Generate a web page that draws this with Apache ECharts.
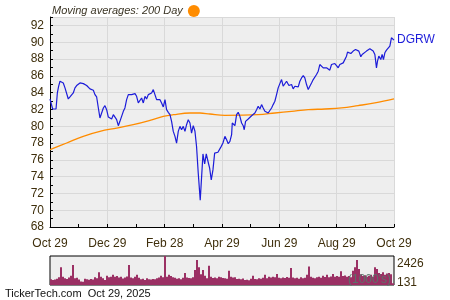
<!DOCTYPE html>
<html><head><meta charset="utf-8">
<script src="https://cdn.jsdelivr.net/npm/echarts@6/dist/echarts.min.js"></script>
<style>html,body{margin:0;padding:0;background:#fff}#c{width:450px;height:300px}</style>
</head><body><div id="c"></div>
<script>
// x positions are days since Oct 29, 2024
const xTickLabels = ['Oct 29','Dec 29','Feb 28','Apr 29','Jun 29','Aug 29','Oct 29'];
const priceDays = [0,2.8,6.4,7.8,9.2,10.6,12.4,14.1,15.9,17.7,19.4,21.2,23.0,24.7,26.5,28.3,30.0,31.8,33.6,35.4,37.1,38.9,40.7,42.4,44.2,46.0,47.7,49.5,51.3,53.0,54.8,56.6,58.3,60.1,61.9,63.6,65.4,67.2,68.9,70.7,72.5,74.2,76.0,77.8,79.5,81.3,83.1,84.8,86.6,88.4,90.2,91.9,93.7,95.5,97.2,99.0,100.8,102.5,104.3,106.1,107.8,109.6,111.4,113.1,114.9,116.7,118.4,120.2,122.0,123.7,125.5,127.3,129.0,130.8,132.6,134.3,136.1,137.9,139.6,141.4,143.2,144.9,146.7,148.5,150.2,152.0,153.8,155.5,157.3,159.4,162.3,164.1,165.8,168.3,169.4,171.1,172.9,174.7,176.4,178.2,179.9,181.7,183.5,185.6,187.4,189.1,190.9,192.7,193.4,194.4,196.2,198.0,199.7,201.5,203.3,205.0,206.1,207.5,208.6,210.3,212.1,213.9,215.6,217.4,219.2,220.9,222.7,224.5,226.2,228.0,229.8,231.5,233.3,235.1,236.8,238.6,240.4,242.1,243.9,245.7,247.4,249.2,251.0,252.0,253.5,255.2,256.3,258.0,259.8,261.6,263.4,265.1,266.9,268.7,270.4,272.2,274.0,275.7,277.5,279.3,281.1,282.8,284.6,286.3,288.1,289.9,291.6,293.4,295.2,296.9,298.7,300.5,302.2,304.0,305.8,307.5,309.3,311.1,312.8,314.6,315.7,317.1,319.2,321.7,324.2,325.9,327.7,329.8,331.2,333.3,335.8,337.6,339.4,341.1,342.9,344.7,346.4,347.5,348.9,351.0,352.4,353.8,355.3,357.0,358.8,360.6,362.3,364.1,365.0];
const priceValues = [83.24,82.05,82.05,83.96,84.76,85.35,85.55,85.15,84.56,84.44,83.24,83.48,83.36,83.96,84.56,84.84,85.03,85.15,85.15,85.07,85.15,84.84,84.76,84.44,84.36,84.28,83.76,83.48,82.17,80.98,81.57,82.17,82.45,81.97,81.09,81.09,80.86,81.37,81.17,80.78,80.06,80.58,80.70,81.77,82.17,83.16,83.76,83.84,83.76,83.76,83.88,83.56,82.77,82.97,83.36,82.77,83.56,83.24,83.76,83.88,83.96,84.36,84.16,83.16,83.08,83.16,82.77,82.29,83.16,81.97,81.65,81.37,80.58,79.38,78.79,77.99,79.38,79.98,79.58,79.98,79.38,80.18,80.78,80.38,79.18,80.06,79.40,77.59,74.40,71.20,76.70,75.50,76.70,75.50,75.00,73.60,74.80,76.80,76.90,76.90,77.10,77.60,78.00,78.79,78.39,77.91,78.19,78.99,80.38,80.30,80.06,81.37,81.65,81.17,80.38,80.06,79.58,80.58,80.38,80.86,80.98,81.25,81.37,81.57,81.97,82.37,82.05,82.57,82.17,81.77,81.97,81.57,81.49,82.17,82.57,82.97,83.76,84.56,85.07,85.55,84.76,84.96,85.35,85.55,84.84,84.68,84.96,84.44,84.76,84.76,84.68,85.35,85.75,86.03,85.75,84.96,84.36,84.76,85.15,85.55,85.75,86.15,86.55,87.34,87.14,86.95,86.75,86.95,87.14,86.67,87.34,87.54,87.46,87.22,86.95,87.34,87.54,87.54,87.74,88.34,88.82,88.74,88.66,88.94,89.13,89.33,88.94,88.26,88.54,88.74,88.94,89.13,89.21,89.33,88.94,88.54,86.95,87.74,88.34,87.94,88.54,87.94,88.74,89.05,89.21,89.53,90.53,90.33,90.25];
const maDays = [0,17.7,35.3,53.0,70.7,88.3,106.1,120.2,130.8,148.5,159.1,169.7,185.6,220.9,238.6,256.3,274.0,291.6,309.3,326.9,344.7,365];
const maValues = [77.2,78.0,78.8,79.38,79.78,80.18,80.7,81.17,81.37,81.57,81.57,81.45,81.3,81.37,81.57,81.77,81.97,82.05,82.17,82.45,82.77,83.25];
const volumeValues = [480,420,460,520,640,1480,680,560,500,620,780,1670,560,600,460,300,280,520,480,440,500,460,640,560,1060,700,560,420,780,640,700,860,700,760,620,680,540,620,720,1670,620,560,700,860,600,480,520,420,560,480,450,500,480,560,620,780,640,2426,700,860,760,640,600,520,560,480,600,1000,620,580,560,640,1250,2090,1480,900,1260,780,560,1600,700,580,620,560,700,640,580,560,520,1200,700,620,640,500,520,480,540,420,440,400,520,780,500,480,560,520,600,860,560,680,620,700,640,920,600,560,620,580,660,600,1420,620,560,600,520,640,560,600,860,1540,700,600,560,640,700,600,780,660,860,640,720,920,680,760,700,1150,760,800,700,760,640,1200,1480,2090,1340,900,760,820,700,780,860,700,1480,1340,1000,920,1060,860,960,1000,900,140];
const volumeTickValues = [131, 2426];
const tickerName = 'DGRW';
const maName = '200 Day';

const priceData = priceDays.map((d, i) => [d, priceValues[i]]);
const maData = maDays.map((d, i) => [d, maValues[i]]);
const step = 365 / 6;
const txt = '#3f2f0c';
const font = 'Liberation Sans';

const chart = echarts.init(document.getElementById('c'), null, {renderer: 'canvas'});
chart.setOption({
  animation: false,
  textStyle: {fontFamily: font},
  title: {text: 'TickerTech.com  Oct 29, 2025', left: 5, bottom: 1, padding: 0,
    textStyle: {fontSize: 11, fontWeight: 'normal', color: '#111', fontFamily: font}},
  legend: {data: [{name: maName, icon: 'circle'}], left: 47, top: 0, align: 'right',
    itemWidth: 12, itemHeight: 12, itemGap: 4, selectedMode: false,
    formatter: 'Moving averages: {name}',
    textStyle: {fontStyle: 'italic', fontSize: 11, color: '#3a3424', fontFamily: font}},
  graphic: [{type: 'text', left: 348, top: 274, z: 100,
    style: {text: "(1000's)", fill: '#56786a', font: '12px Liberation Sans', opacity: 0.9}}],
  grid: [
    {left: 50, right: 56, top: 17, height: 210, show: true, backgroundColor: '#eeeeee', borderWidth: 0},
    {left: 50, right: 56, top: 256, height: 29, show: true, backgroundColor: '#eeeeee', borderColor: '#000', borderWidth: 1}
  ],
  xAxis: [
    {type: 'value', gridIndex: 0, min: 0, max: 365, interval: step,
      axisLine: {show: true, lineStyle: {color: '#000', width: 1}},
      axisTick: {show: true, inside: true, length: 3, lineStyle: {color: '#000'}},
      minorTick: {show: true, splitNumber: 2, length: 3, lineStyle: {color: '#000'}},
      splitLine: {show: true, lineStyle: {color: '#d9d9d9', width: 1}},
      axisLabel: {margin: 11, fontSize: 12, color: txt, fontFamily: font,
        formatter: v => xTickLabels[Math.round(v / step)] || ''}},
    {type: 'category', gridIndex: 1, data: volumeValues.map((v, i) => i), boundaryGap: true,
      axisLine: {show: false}, axisTick: {show: false}, axisLabel: {show: false}, splitLine: {show: false}}
  ],
  yAxis: [
    {type: 'value', gridIndex: 0, min: 68, max: 93, interval: 2,
      axisLine: {show: true, lineStyle: {color: '#000', width: 1}},
      axisTick: {show: true, inside: true, length: 3, lineStyle: {color: '#000'}},
      minorTick: {show: true, splitNumber: 2, length: 3, lineStyle: {color: '#000'}},
      splitLine: {show: true, lineStyle: {color: '#d9d9d9', width: 1}},
      axisLabel: {margin: 6, fontSize: 12, color: txt, fontFamily: font, showMaxLabel: false}},
    {type: 'value', gridIndex: 1, position: 'right', min: 0, max: 2426,
      axisLine: {show: false}, axisTick: {show: false}, splitLine: {show: false},
      axisLabel: {margin: 3, fontSize: 12, color: txt, fontFamily: font, customValues: volumeTickValues,
        formatter: v => v === volumeTickValues[1] ? '{t|' + v + '}' : '{b|' + v + '}',
        rich: {t: {padding: [16, 0, 0, 0], fontSize: 12, color: txt, fontFamily: font},
               b: {padding: [0, 0, 2, 0], fontSize: 12, color: txt, fontFamily: font}}}}
  ],
  series: [
    {name: maName, type: 'line', xAxisIndex: 0, yAxisIndex: 0, data: maData, smooth: 0.4,
      showSymbol: false, color: '#ff8c00', lineStyle: {color: '#ff8c00', width: 1.3}, z: 3},
    {name: tickerName, type: 'line', xAxisIndex: 0, yAxisIndex: 0, data: priceData,
      showSymbol: false, color: '#1c1cd9', lineStyle: {color: '#1c1cd9', width: 1.2}, z: 4,
      endLabel: {show: true, formatter: tickerName, color: '#1c1cd9', fontSize: 12, fontFamily: font, distance: 3}},
    {name: 'Volume', type: 'bar', xAxisIndex: 1, yAxisIndex: 1, data: volumeValues,
      barCategoryGap: '0%', itemStyle: {color: '#9b3064'}}
  ]
});
</script></body></html>
